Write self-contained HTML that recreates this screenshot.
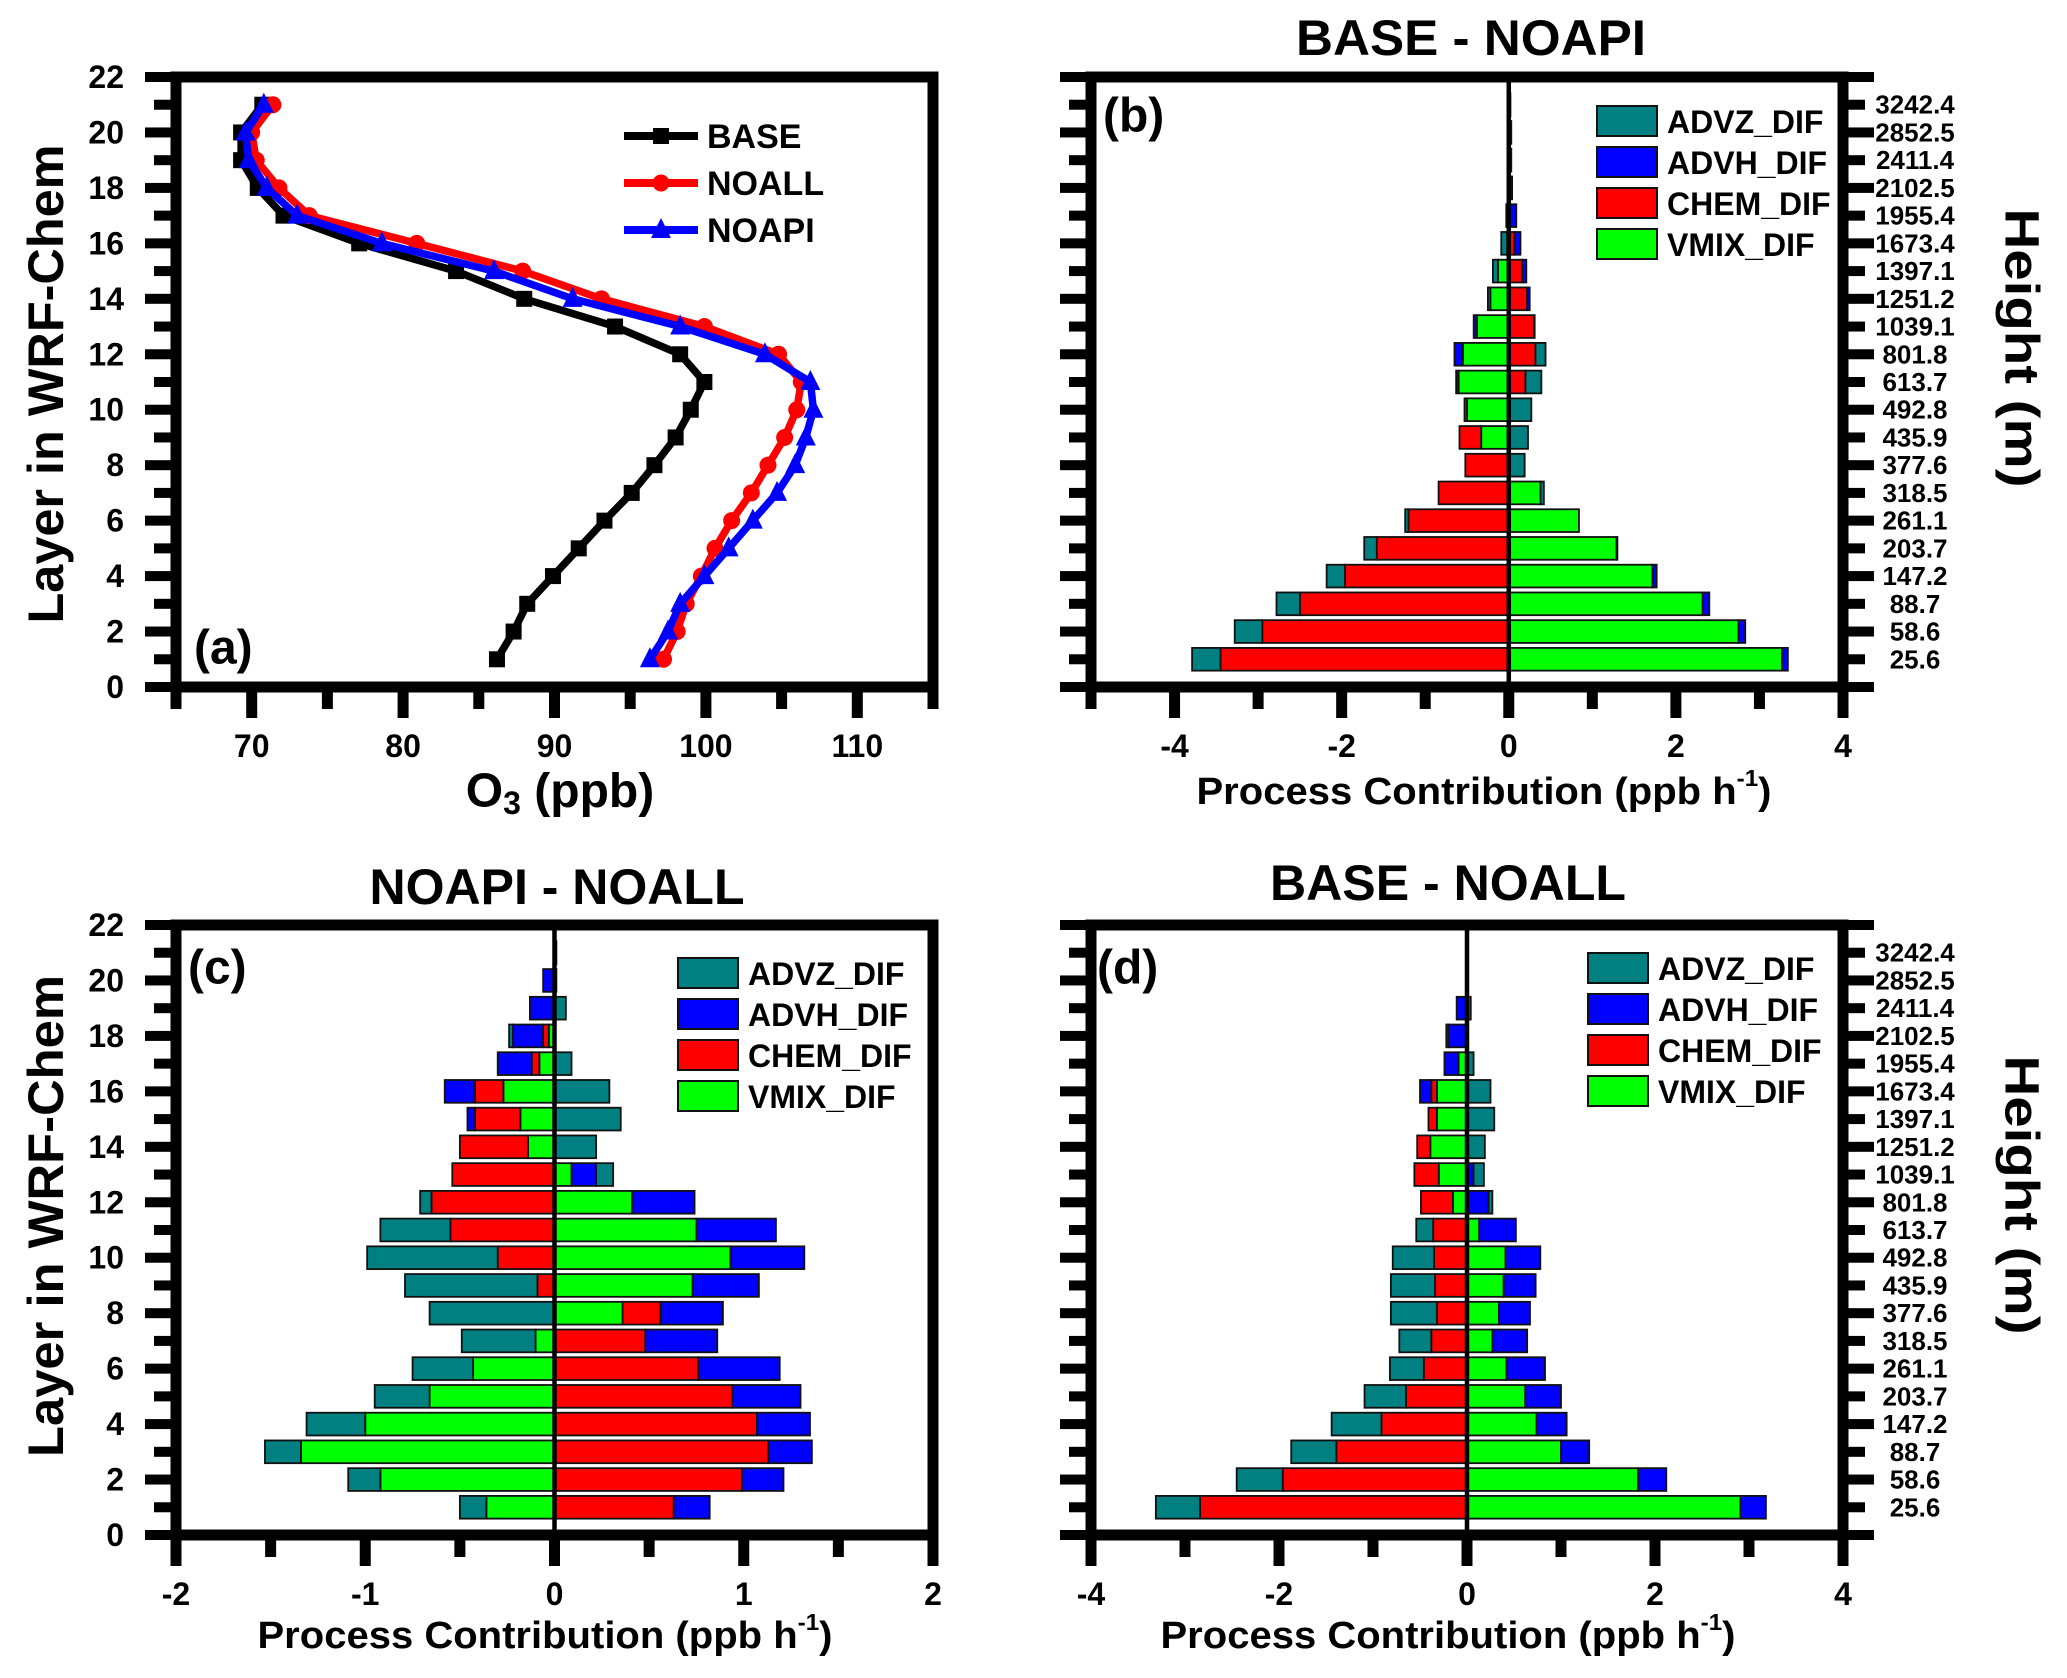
<!DOCTYPE html>
<html><head><meta charset="utf-8"><style>
html,body{margin:0;padding:0;background:#fff}
svg{display:block}
text{font-family:"Liberation Sans",Arial,sans-serif;font-weight:bold;fill:#000}
</style></head><body>
<svg id="fig" xmlns="http://www.w3.org/2000/svg" width="2067" height="1678" viewBox="0 0 2067 1678"></svg>
<script>
// ---- Panel (a) data: O3 (ppb) at layers 1..21 ----
const layers = [1,2,3,4,5,6,7,8,9,10,11,12,13,14,15,16,17,18,19,20,21];
const o3Base  = [86.2,87.3,88.2,89.9,91.6,93.3,95.1,96.6,98.0,99.0,99.9,98.3,94.0,88.0,83.5,77.1,72.1,70.4,69.3,69.3,70.7];
const o3Noall = [97.2,98.1,98.7,99.7,100.6,101.7,103.0,104.1,105.2,106.0,106.3,104.8,99.9,93.1,87.9,80.9,73.8,71.8,70.3,70.0,71.4];
const o3Noapi = [96.3,97.5,98.3,99.9,101.5,103.1,104.7,105.9,106.6,107.1,106.9,103.9,98.3,91.2,86.0,78.6,73.0,71.0,69.8,69.6,70.8];
const aXTicks = [70,80,90,100,110];
const yTicks = [0,2,4,6,8,10,12,14,16,18,20,22];
const heightLabels = ["25.6","58.6","88.7","147.2","203.7","261.1","318.5","377.6","435.9","492.8","613.7","801.8","1039.1","1251.2","1397.1","1673.4","1955.4","2102.5","2411.4","2852.5","3242.4"];
const procNames = ["ADVZ_DIF","ADVH_DIF","CHEM_DIF","VMIX_DIF"];
// ---- Panel (b) BASE - NOAPI ----
const bVMIX = [3.27,2.75,2.32,1.72,1.29,0.84,0.38,0,-0.33,-0.5,-0.6,-0.55,-0.38,-0.22,-0.13,-0.02,-0.01,0,0,0,0];
const bCHEM = [-3.45,-2.95,-2.5,-1.96,-1.58,-1.2,-0.84,-0.52,-0.26,-0.03,0.2,0.32,0.3,0.22,0.16,0.07,0.02,0.01,0.01,0.01,0.01];
const bADVH = [0.07,0.08,0.08,0.05,0.01,0,0,0,0,0,-0.03,-0.1,-0.04,0.03,0.05,0.07,0.07,0.02,0.01,0.01,0];
const bADVZ = [-0.34,-0.33,-0.28,-0.22,-0.15,-0.04,0.04,0.19,0.23,0.27,0.19,0.12,0.01,-0.03,-0.06,-0.07,-0.02,0.01,0.01,0.01,0.01];
const bXTicks = [-4,-2,0,2,4];
// ---- Panel (c) NOAPI - NOALL ----
const cVMIX = [-0.36,-0.92,-1.34,-1.0,-0.66,-0.43,-0.1,0.36,0.73,0.93,0.75,0.41,0.09,-0.14,-0.18,-0.27,-0.08,-0.03,0,0,0];
const cCHEM = [0.63,0.99,1.13,1.07,0.94,0.76,0.48,0.2,-0.09,-0.3,-0.55,-0.65,-0.54,-0.36,-0.24,-0.15,-0.04,-0.03,0,0,0];
const cADVH = [0.19,0.22,0.23,0.28,0.36,0.43,0.38,0.33,0.35,0.39,0.42,0.33,0.13,0,-0.04,-0.16,-0.18,-0.16,-0.13,-0.06,0];
const cADVZ = [-0.14,-0.17,-0.19,-0.31,-0.29,-0.32,-0.39,-0.66,-0.7,-0.69,-0.37,-0.06,0.09,0.22,0.35,0.29,0.09,-0.02,0.06,0.01,0.01];
const cXTicks = [-2,-1,0,1,2];
// ---- Panel (d) BASE - NOALL ----
const dVMIX = [2.91,1.82,1.0,0.74,0.62,0.42,0.27,0.34,0.39,0.41,0.13,-0.15,-0.3,-0.39,-0.32,-0.32,-0.09,0,0,0,0];
const dCHEM = [-2.84,-1.96,-1.39,-0.91,-0.65,-0.46,-0.38,-0.32,-0.34,-0.35,-0.36,-0.34,-0.26,-0.14,-0.09,-0.06,0,0,0,0,0];
const dADVH = [0.27,0.3,0.3,0.32,0.38,0.41,0.37,0.33,0.34,0.37,0.39,0.23,0.07,0,0,-0.12,-0.15,-0.2,-0.11,-0.01,0];
const dADVZ = [-0.47,-0.49,-0.48,-0.53,-0.44,-0.36,-0.34,-0.49,-0.47,-0.44,-0.18,0.04,0.11,0.19,0.29,0.25,0.07,-0.02,0.04,0.01,0.01];
const dXTicks = [-4,-2,0,2,4];

const NS = "http://www.w3.org/2000/svg";
const svg = document.getElementById('fig');
function mk(tag, attrs, parent){
  const e = document.createElementNS(NS, tag);
  for (const k in attrs) e.setAttribute(k, attrs[k]);
  (parent||svg).appendChild(e);
  return e;
}
function txt(s, x, y, size, anchor, parent, extra){
  const t = mk('text', Object.assign({x:x, y:y, 'font-size':size, 'text-anchor':anchor||'middle', 'dominant-baseline':'central'}, extra||{}), parent);
  t.textContent = s;
  return t;
}
const COL = {ADVZ:"#008080", ADVH:"#0000ff", CHEM:"#ff0000", VMIX:"#00ff00"};

function panel(name, L, R, T, B, xmin, xmax){
  const g = mk('g', {});
  
  
  const sx = v => L + (v - xmin) * (R - L) / (xmax - xmin);
  const sy = v => B - v * (B - T) / 22;
  return {g, sx, sy, L, R, T, B};
}
function axes(p, xmin, xmax, xTicks, minorStep, opts){
  const g = mk('g', {}, p.g);
  
  
  for (let i=0;i<=22;i++){
    const len = i%2===0 ? 31 : 22;
    const r = mk('rect', {x:p.L-len, y:p.sy(i)-5, width:len, height:10, fill:'#000'}, g);
    
    
    if (opts.right){
      const r2 = mk('rect', {x:p.R, y:p.sy(i)-5, width:len, height:10, fill:'#000'}, g);
      
      
    }
  }
  for (let v=xmin; v<=xmax+1e-9; v+=minorStep){
    const major = xTicks.some(t => Math.abs(t-v)<1e-9);
    const len = major ? 31 : 22;
    const r = mk('rect', {x:p.sx(v)-5.5, y:p.B, width:11, height:len, fill:'#000'}, g);
    
    
  }
  xTicks.forEach(v => {
    const t = txt(String(v), p.sx(v), p.B+59, 32, 'middle', g);
    
    
  });
  if (opts.yLabels){
    yTicks.forEach(v => {
      const t = txt(String(v), p.L-52, p.sy(v), 32, 'end', g);
      
      
    });
  }
  if (opts.right){
    heightLabels.forEach((s,i) => {
      const t = txt(s, p.R+72, p.sy(i+1), 26, 'middle', g);
      
      
    });
  }
}
function frame(p){
  const f = mk('rect', {x:p.L, y:p.T, width:p.R-p.L, height:p.B-p.T, fill:'none', stroke:'#000', 'stroke-width':11}, p.g);
  
  
}
function stackedBars(p, series){
  const g = mk('g', {}, p.g);
  
  
  const order = ['VMIX','CHEM','ADVH','ADVZ'];
  const h = 0.82 * (p.B - p.T) / 22;
  layers.forEach((lay, i) => {
    let pos = 0, neg = 0;
    order.forEach(k => {
      const v = series[k][i];
      if (Math.abs(v) < 1e-9) return;
      let a, b;
      if (v >= 0){ a = pos; b = pos + v; pos = b; } else { a = neg + v; b = neg; neg = a; }
      const x1 = p.sx(a), x2 = p.sx(b);
      const r = mk('rect', {x:x1, y:p.sy(lay)-h/2, width:Math.max(x2-x1,0.5), height:h, fill:COL[k], stroke:'#111', 'stroke-width':1.8}, g);
      
      
    });
  });
  const z = mk('line', {x1:p.sx(0), x2:p.sx(0), y1:p.T, y2:p.B, stroke:'#000', 'stroke-width':4.5}, g);
  
  
}
function barLegend(x, y){
  const g = mk('g', {});
  
  
  const cols = [COL.ADVZ, COL.ADVH, COL.CHEM, COL.VMIX];
  procNames.forEach((n,i) => {
    const yy = y + i*41;
    const r = mk('rect', {x:x, y:yy, width:60, height:30, fill:cols[i], stroke:'#111', 'stroke-width':2}, g);
    
    
    const t = txt(n, x+70, yy+16, 32, 'start', g);
    
    
  });
}
function xTitle(cx, cy, w){
  const t = txt('', cx - 8, cy, 38, 'middle');
  
  
  t.innerHTML = 'Process Contribution (ppb h<tspan font-size="23" dy="-14">-1</tspan><tspan dy="14">)</tspan>';
  t.setAttribute('textLength', w);
  t.setAttribute('lengthAdjust', 'spacingAndGlyphs');
}

// ===== Panel a =====
const pa = panel('panel-a', 176, 933, 77, 687, 65, 115);
axes(pa, 65, 115, aXTicks, 5, {yLabels:true});
(function(){
  const series = [
    {name:'BASE', data:o3Base, color:'#000', marker:'square'},
    {name:'NOALL', data:o3Noall, color:'#ff0000', marker:'circle'},
    {name:'NOAPI', data:o3Noapi, color:'#0000ff', marker:'triangle'}
  ];
  series.forEach(s => {
    const g = mk('g', {}, pa.g);
    
    
    const pts = s.data.map((v,i) => pa.sx(v).toFixed(1) + ',' + pa.sy(layers[i]).toFixed(1)).join(' ');
    const pl = mk('polyline', {points:pts, fill:'none', stroke:s.color, 'stroke-width':7.5, 'stroke-linejoin':'round'}, g);
    
    
    s.data.forEach((v,i) => {
      const x = pa.sx(v), y = pa.sy(layers[i]);
      let m;
      if (s.marker==='square') m = mk('rect', {x:x-8, y:y-8, width:16, height:16, fill:s.color}, g);
      else if (s.marker==='circle') m = mk('circle', {cx:x, cy:y, r:8.5, fill:s.color}, g);
      else m = mk('polygon', {points:`${x},${y-12} ${x-10},${y+8} ${x+10},${y+8}`, fill:s.color}, g);
      
      
    });
  });
  const lg = mk('g', {});
  
  
  series.forEach((s,i) => {
    const y = 136 + i*47, x1 = 624, x2 = 698, xm = 661;
    mk('line', {x1:x1, x2:x2, y1:y, y2:y, stroke:s.color, 'stroke-width':8}, lg);
    if (s.marker==='square') mk('rect', {x:xm-8, y:y-8, width:16, height:16, fill:s.color}, lg);
    else if (s.marker==='circle') mk('circle', {cx:xm, cy:y, r:8.5, fill:s.color}, lg);
    else mk('polygon', {points:`${xm},${y-12} ${xm-10},${y+8} ${xm+10},${y+8}`, fill:s.color}, lg);
    const t = txt(s.name, 707, y+1, 34, 'start', lg);
    
    
  });
})();
frame(pa);
(function(){
  const t = txt('(a)', 194, 648, 48, 'start');
  
  
  const yt = txt('Layer in WRF-Chem', 0, 0, 50, 'middle', null, {transform:'translate(46,384) rotate(-90)', textLength:479, lengthAdjust:'spacingAndGlyphs'});
  
  
  const xt = txt('', 560, 791, 48, 'middle');
  xt.innerHTML = 'O<tspan font-size="32" dy="12">3</tspan><tspan dy="-12"> (ppb)</tspan>';
  
  
})();

// ===== Panel b =====
const pb = panel('panel-b', 1091, 1843, 77, 687, -5, 4);
axes(pb, -5, 4, bXTicks, 1, {right:true});
stackedBars(pb, {VMIX:bVMIX, CHEM:bCHEM, ADVH:bADVH, ADVZ:bADVZ});
frame(pb);
barLegend(1597, 106);
(function(){
  const t = txt('(b)', 1103, 116, 48, 'start');
   
  const ti = txt('BASE - NOAPI', 1471, 38, 50, 'middle', null, {textLength:350, lengthAdjust:'spacingAndGlyphs'});
   
  const h = txt('Height (m)', 0, 0, 48, 'middle', null, {transform:'translate(2021,348) rotate(90)', textLength:279, lengthAdjust:'spacingAndGlyphs'});
   
  xTitle(1492, 792, 575);
})();

// ===== Panel c =====
const pc = panel('panel-c', 176, 933, 925, 1535, -2, 2);
axes(pc, -2, 2, cXTicks, 0.5, {yLabels:true});
stackedBars(pc, {VMIX:cVMIX, CHEM:cCHEM, ADVH:cADVH, ADVZ:cADVZ});
frame(pc);
barLegend(678, 958);
(function(){
  const t = txt('(c)', 188, 968, 48, 'start');
   
  const ti = txt('NOAPI - NOALL', 557, 887, 50, 'middle', null, {textLength:375, lengthAdjust:'spacingAndGlyphs'});
   
  const yt = txt('Layer in WRF-Chem', 0, 0, 50, 'middle', null, {transform:'translate(46,1216) rotate(-90)', textLength:482, lengthAdjust:'spacingAndGlyphs'});
   
  xTitle(553, 1636, 575);
})();

// ===== Panel d =====
const pd = panel('panel-d', 1091, 1843, 925, 1535, -4, 4);
axes(pd, -4, 4, dXTicks, 1, {right:true});
stackedBars(pd, {VMIX:dVMIX, CHEM:dCHEM, ADVH:dADVH, ADVZ:dADVZ});
frame(pd);
barLegend(1588, 953);
(function(){
  const t = txt('(d)', 1097, 968, 48, 'start');
   
  const ti = txt('BASE - NOALL', 1448, 883, 50, 'middle', null, {textLength:356, lengthAdjust:'spacingAndGlyphs'});
   
  const h = txt('Height (m)', 0, 0, 48, 'middle', null, {transform:'translate(2021,1195) rotate(90)', textLength:279, lengthAdjust:'spacingAndGlyphs'});
   
  xTitle(1456, 1636, 575);
})();
</script>
</body></html>
